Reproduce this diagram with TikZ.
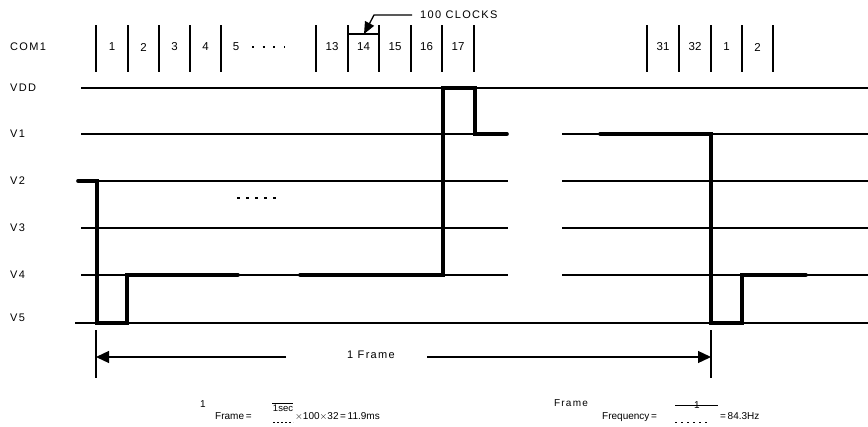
\documentclass[tikz,border=0pt]{standalone}
\usepackage{fontspec}
\setmainfont{Liberation Sans}
\newfontfamily\lsfont[LetterSpace=12]{Liberation Sans}
\usetikzlibrary{arrows.meta}
\begin{document}
\begin{tikzpicture}[x=1pt,y=-1pt,
  lbl/.style={font=\lsfont\fontsize{11}{13}\selectfont, inner sep=0pt},
  num/.style={font=\fontsize{11.5}{13}\selectfont, inner sep=0pt},
  eq/.style={font=\fontsize{10}{12}\selectfont, inner sep=0pt},
  grid/.style={line width=1.3pt},
  bar/.style={line width=2pt},
  sig/.style={line width=3.6pt, line cap=round, line join=miter},
  thin/.style={line width=1.3pt},
  head/.style={-{Triangle[length=13pt,width=12pt]}}]
\useasboundingbox (0,0) rectangle (868,426);
% left labels
\node[lbl, anchor=west] (com1) at (10,47) {COM1};
\node[lbl, anchor=west] (vdd) at (10,88) {VDD};
\node[lbl, anchor=west] (v1) at (10,134) {V1};
\node[lbl, anchor=west] (v2) at (10,181) {V2};
\node[lbl, anchor=west] (v3) at (10,228) {V3};
\node[lbl, anchor=west] (v4) at (10,275) {V4};
\node[lbl, anchor=west] (v5) at (10,318) {V5};
% grid lines
\draw[grid] (81,88) -- (868,88);
\foreach \y in {134,181,228,275}{
  \draw[grid] (81,\y) -- (508,\y);
  \draw[grid] (562,\y) -- (868,\y);
}
\draw[grid] (75,323) -- (868,323);
% COM1 bars
\foreach \x in {96,128,159,190,221,316,348,379,411,442,474,647,679,711,742,773}{
  \draw[bar] (\x,25) -- (\x,72);
}
\node[num] (n1) at (112,47) {1};
\node[num] (n2) at (143.5,47) {2};
\node[num] (n3) at (174.5,47) {3};
\node[num] (n4) at (205.5,47) {4};
\node[num] (n5) at (236,47) {5};
\draw[line width=1.8pt, dash pattern=on 2pt off 8.7pt] (252,47) -- (285,47);
\node[num] (n13) at (332,47) {13};
\node[num] (n14) at (363.5,47) {14};
\node[num] (n15) at (395,47) {15};
\node[num] (n16) at (426.5,47) {16};
\node[num] (n17) at (458,47) {17};
\node[num] (n31) at (663,47) {31};
\node[num] (n32) at (695,47) {32};
\node[num] (n1b) at (726.5,47) {1};
\node[num] (n2b) at (757.5,47) {2};
% 100 clocks
\draw[thin] (348,34) -- (379,34);
\node[lbl, anchor=west] (clk) at (420,15) {100 CLOCKS};
\coordinate (clkstart) at (412,15);
\coordinate (clkbend) at (374,15);
\coordinate (clktip) at (364,34);
\draw[thin, -{Triangle[length=12pt,width=10pt]}] (clkstart) -- (clkbend) -- (clktip);
% signal
\draw[sig] (78,181) -- (97,181) -- (97,323) -- (127,323) -- (127,275) -- (238,275);
\draw[sig] (300,275) -- (443,275) -- (443,88) -- (475,88) -- (475,134) -- (507,134);
\draw[sig] (600,134) -- (711,134) -- (711,323) -- (742,323) -- (742,275) -- (806,275);
\draw[line width=1.3pt, dash pattern=on 3pt off 6pt] (237,198) -- (281,198);
% frame arrow
\coordinate (fl) at (96,357);
\coordinate (fr) at (711,357);
\draw[line width=1.5pt] (96,330) -- (96,378);
\draw[line width=1.5pt] (711,330) -- (711,378);
\node[lbl] (frame) at (371,355) {1 Frame};
\coordinate (fla) at (286,357);
\coordinate (fra) at (427,357);
\draw[thin, head] (fla) -- (fl);
\draw[thin, head] (fra) -- (fr);
% formula left
\node[eq] (one) at (203,404) {1};
\node[eq, anchor=base west] (fa) at (215,419) {Frame\,=};
\node[eq, font=\fontsize{9.5}{11}\selectfont] (sec) at (283,408) {1sec};
\draw[line width=0.9pt] (272,403) -- (293,403);
\draw[line width=0.8pt, dash pattern=on 2pt off 2pt] (273,422) -- (293,422);
\node[eq, anchor=base west] (fb) at (295,419) {$\times$100$\times$32\,=\,11.9ms};
% formula right
\node[eq, font=\lsfont\fontsize{10}{12}\selectfont] (frm) at (571,403) {Frame};
\node[eq, anchor=base west] (fq) at (602,419) {Frequency\,=};
\draw[line width=0.9pt] (675,405) -- (718,405);
\node[eq] (fone) at (697,405) {1};
\draw[line width=0.8pt, dash pattern=on 2pt off 4pt] (675,422) -- (707,422);
\node[eq, anchor=base west] (fhz) at (720,419) {=\,84.3Hz};
\end{tikzpicture}
\end{document}
